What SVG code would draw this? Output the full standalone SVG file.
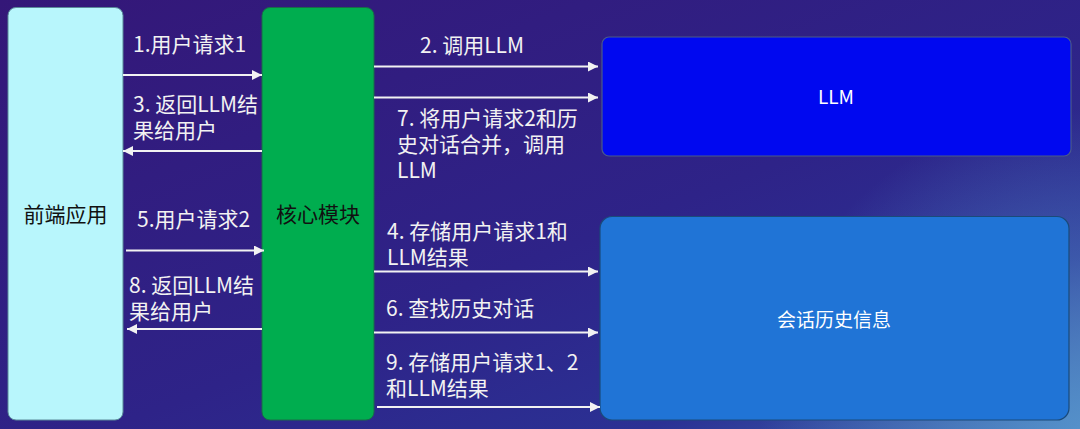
<svg xmlns="http://www.w3.org/2000/svg" width="1080" height="429" viewBox="0 0 1080 429">
<defs>
<linearGradient id="bg" x1="0" y1="0" x2="1" y2="1">
<stop offset="0" stop-color="#341778"/>
<stop offset="0.55" stop-color="#2e2388"/>
<stop offset="0.8" stop-color="#2b3194"/>
<stop offset="1" stop-color="#3f6ab0"/>
</linearGradient>
<radialGradient id="glow" cx="1080" cy="429" r="320" gradientUnits="userSpaceOnUse">
<stop offset="0" stop-color="#5a9ad0" stop-opacity="0.8"/>
<stop offset="1" stop-color="#5a9ad0" stop-opacity="0"/>
</radialGradient>
<marker id="ah" viewBox="0 0 10 10" refX="10" refY="5" markerWidth="5" markerHeight="5" orient="auto" markerUnits="strokeWidth">
<path d="M0,0 L10,5 L0,10 z" fill="#f2f2f2"/>
</marker>
</defs>
<style>
.lbl{font-family:"Noto Sans CJK SC","Noto Sans",sans-serif;font-size:21px;fill:#f2f2f2}
.nt{font-family:"Noto Sans CJK SC","Noto Sans",sans-serif;font-size:21px;text-anchor:middle}
.cn{stroke:#f2f2f2;stroke-width:2;fill:none;marker-end:url(#ah)}
</style>
<rect x="0" y="0" width="1080" height="429" fill="url(#bg)"/>
<rect x="0" y="0" width="1080" height="429" fill="url(#glow)"/>

<g id="frontend">
<rect x="8" y="7.5" width="115" height="412.5" rx="8" fill="#b8f6fc" stroke="#5a8a9a" stroke-width="1"/>
<text class="nt" x="65.5" y="222" fill="#111">前端应用</text>
</g>
<g id="core">
<rect x="262" y="7.5" width="112" height="412.5" rx="8" fill="#00ad4f" stroke="#1a6a4a" stroke-width="1"/>
<text class="nt" x="318" y="222" fill="#111">核心模块</text>
</g>
<g id="llm">
<rect x="602" y="37" width="469" height="119" rx="7" fill="#0008f0" stroke="#4a5a8a" stroke-width="1.2"/>
<text class="nt" x="836" y="104" fill="#ffffff" style="font-size:19px">LLM</text>
</g>
<g id="history">
<rect x="600" y="216.5" width="469" height="203.5" rx="12" fill="#2074d6" stroke="#1a4a7a" stroke-width="1.2"/>
<text class="nt" x="834" y="327" fill="#ffffff" style="font-size:19px">会话历史信息</text>
</g>

<g id="connectors">
<line class="cn" x1="123" y1="75" x2="262" y2="75"/>
<line class="cn" x1="262" y1="151" x2="123" y2="151"/>
<line class="cn" x1="126" y1="250.5" x2="264" y2="250.5"/>
<line class="cn" x1="262" y1="329" x2="127" y2="329"/>
<line class="cn" x1="374" y1="66.5" x2="598" y2="66.5"/>
<line class="cn" x1="374" y1="97.5" x2="598" y2="97.5"/>
<line class="cn" x1="374" y1="271.5" x2="598" y2="271.5"/>
<line class="cn" x1="374" y1="332.5" x2="598" y2="332.5"/>
<line class="cn" x1="377" y1="407" x2="600" y2="407"/>
</g>

<g id="labels">
<text class="lbl" x="133" y="52">1.用户请求1</text>
<text class="lbl" x="133" y="112">3. 返回LLM结<tspan x="133" dy="26">果给用户</tspan></text>
<text class="lbl" x="137" y="227">5.用户请求2</text>
<text class="lbl" x="129" y="293">8. 返回LLM结<tspan x="129" dy="26">果给用户</tspan></text>
<text class="lbl" x="420" y="53">2. 调用LLM</text>
<text class="lbl" x="397" y="126">7. 将用户请求2和历<tspan x="397" dy="26">史对话合并，调用</tspan><tspan x="397" dy="26">LLM</tspan></text>
<text class="lbl" x="387" y="239">4. 存储用户请求1和<tspan x="387" dy="26">LLM结果</tspan></text>
<text class="lbl" x="386" y="316">6. 查找历史对话</text>
<text class="lbl" x="386" y="370">9. 存储用户请求1、2<tspan x="386" dy="26">和LLM结果</tspan></text>
</g>
</svg>
